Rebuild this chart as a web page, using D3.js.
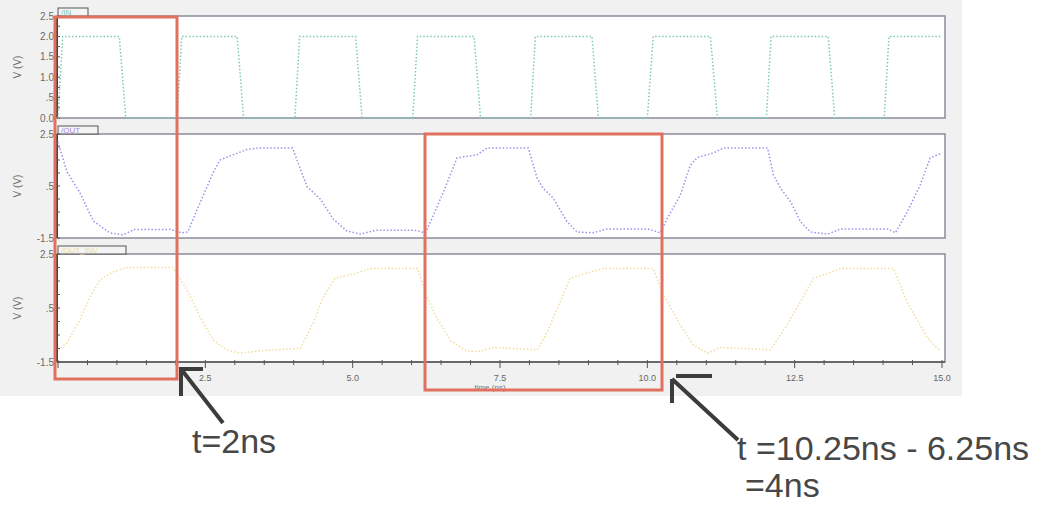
<!DOCTYPE html>
<meta charset="utf-8">
<script src="https://cdn.jsdelivr.net/npm/d3@7"></script>
<style>
  body { margin: 0; background: #fff; }
  svg { display: block; font-family: "Liberation Sans", Arial, sans-serif; }
</style>
<body>
<div id="chart"></div>
<script>

// ----- data (time in ns, volts)
var inPoints = [
  [0, 0], [0.08, 2], [1.04, 2], [1.15, 0],
  [2.02, 0], [2.1, 2], [3.04, 2], [3.15, 0],
  [4.02, 0], [4.1, 2], [5.05, 2], [5.16, 0],
  [6.02, 0], [6.1, 2], [7.06, 2], [7.17, 0],
  [8.02, 0], [8.1, 2], [9.06, 2], [9.17, 0],
  [10.0, 0], [10.1, 2], [11.07, 2], [11.19, 0],
  [12.02, 0], [12.1, 2], [13.07, 2], [13.18, 0],
  [14.02, 0], [14.1, 2], [15, 2]
]
var outPoints = [
  [0, 2.2], [0.15, 1.05], [0.37, 0.25], [0.6, -0.85], [0.88, -1.3], [1.1, -1.38],
  [1.3, -1.17], [1.9, -1.17], [2.1, -1.3], [2.2, -1.27], [2.41, -0.15], [2.63, 1.0],
  [2.75, 1.5], [2.97, 1.7], [3.2, 1.9], [3.4, 1.96], [3.98, 1.96], [4.1, 1.23],
  [4.23, 0.46], [4.45, 0.0], [4.67, -0.77], [4.9, -1.23], [5.13, -1.35], [5.4, -1.2],
  [6.05, -1.2], [6.23, -1.3], [6.32, -0.88], [6.54, 0.27], [6.77, 1.58], [7.11, 1.7],
  [7.28, 1.96], [7.98, 1.96], [8.13, 0.8], [8.23, 0.42], [8.4, 0.04], [8.64, -0.88],
  [8.81, -1.27], [9.08, -1.3], [9.32, -1.15], [10.0, -1.15], [10.22, -1.3], [10.34, -0.73],
  [10.56, 0.15], [10.73, 1.3], [10.85, 1.6], [11.12, 1.77], [11.29, 1.96], [12.04, 1.96],
  [12.14, 0.92], [12.26, 0.42], [12.43, -0.1], [12.6, -0.88], [12.77, -1.27], [13.06, -1.35],
  [13.28, -1.15], [14.07, -1.15], [14.21, -1.3], [14.41, -0.5], [14.63, 0.54], [14.8, 1.58],
  [15.0, 1.77]
]
var outInvPoints = [
  [0, -1.06], [0.15, -0.8], [0.37, 0.06], [0.54, 0.9], [0.71, 1.54], [0.93, 1.83],
  [1.17, 2.0], [1.95, 2.0], [2.19, 1.17], [2.41, 0.17], [2.63, -0.68], [2.87, -1.06],
  [3.09, -1.17], [3.55, -1.06], [4.11, -1.0], [4.33, -0.06], [4.5, 0.9], [4.7, 1.6],
  [5.08, 1.8], [5.3, 1.96], [6.1, 1.96], [6.26, 0.9], [6.43, 0.13], [6.66, -0.7],
  [6.94, -1.1], [7.16, -1.1], [7.39, -0.96], [8.13, -1.05], [8.3, -0.4], [8.69, 1.6],
  [8.98, 1.8], [9.25, 1.96], [10.1, 1.96], [10.27, 1.0], [10.56, -0.13], [10.78, -0.87],
  [11.02, -1.17], [11.24, -0.96], [12.09, -1.05], [12.38, -0.1], [12.82, 1.6], [13.28, 1.96],
  [14.18, 1.96], [14.41, 0.7], [14.75, -0.6], [14.97, -1.1]
]

var timeTicks = [2.5, 5.0, 7.5, 10.0, 12.5, 15.0]
var inTickLabels = ["0.0", ".5", "1.0", "1.5", "2.0", "2.5"]
var inTickValues = [0, 0.5, 1.0, 1.5, 2.0, 2.5]
var outTickLabels = ["-1.5", ".5", "2.5"]
var outTickValues = [-1.5, 0.5, 2.5]

var panels = [
  {name: "/IN", data: inPoints, color: "#7ccbb0", domain: [0, 2.5], top: 16, bottom: 118,
   tabW: 30, ticks: inTickValues, labels: inTickLabels, minor: 0.25},
  {name: "/OUT", data: outPoints, color: "#a68cea", domain: [-1.5, 2.5], top: 134, bottom: 238,
   tabW: 40, ticks: outTickValues, labels: outTickLabels, minor: 0.5},
  {name: "/OUT_INV", data: outInvPoints, color: "#f2dc9e", domain: [-1.5, 2.5], top: 254, bottom: 362,
   tabW: 68, ticks: outTickValues, labels: outTickLabels, minor: 0.5}
]

var W = 1042, H = 506
var left = 57, right = 945

var svg = d3.select("#chart").append("svg")
  .attr("width", W).attr("height", H)

// simulator window background
svg.append("rect")
  .attr("x", 0).attr("y", 0).attr("width", 962).attr("height", 396)
  .attr("fill", "#f1f1f1")

var xScale = d3.scaleLinear().domain([0, 15]).range([58, 942])

panels.forEach(function(p) {
  var yScale = d3.scaleLinear().domain(p.domain).range([p.bottom, p.top])

  svg.append("rect")
    .attr("x", left).attr("y", p.top)
    .attr("width", right - left).attr("height", p.bottom - p.top)
    .attr("fill", "#fff")
    .attr("stroke", "#8c8c9c").attr("stroke-width", 1.5)

  // tab with signal name
  svg.append("rect")
    .attr("x", left + 1).attr("y", p.top - 8)
    .attr("width", p.tabW).attr("height", 8)
    .attr("fill", "#f4f4f4").attr("stroke", "#555").attr("stroke-width", 1)
  svg.append("text")
    .attr("x", left + 4).attr("y", p.top - 1)
    .style("font-size", "8px")
    .attr("fill", p.color)
    .text(p.name)

  // left axis
  svg.append("line")
    .attr("x1", left).attr("x2", left)
    .attr("y1", p.top).attr("y2", p.bottom)
    .attr("stroke", "#444").attr("stroke-width", 2)
  var minorTicks = d3.range(p.domain[0], p.domain[1] + 0.001, p.minor)
  svg.selectAll(null).data(minorTicks).enter().append("line")
    .attr("x1", left).attr("x2", left + 3)
    .attr("y1", function(d) { return yScale(d) })
    .attr("y2", function(d) { return yScale(d) })
    .attr("stroke", "#555").attr("stroke-width", 1)
  svg.selectAll(null).data(p.ticks).enter().append("text")
    .attr("x", left - 3)
    .attr("y", function(d) { return yScale(d) + 3.5 })
    .attr("text-anchor", "end")
    .style("font-size", "10px")
    .attr("fill", "#6a6a6a")
    .text(function(d, i) { return p.labels[i] })
  svg.append("text")
    .attr("transform", "translate(21," + ((p.top + p.bottom) / 2) + ") rotate(-90)")
    .attr("text-anchor", "middle")
    .style("font-size", "10px")
    .attr("fill", "#6a6a6a")
    .text("V (V)")

  var line = d3.line()
    .x(function(d) { return xScale(d[0]) })
    .y(function(d) { return yScale(d[1]) })
  svg.append("path")
    .datum(p.data)
    .attr("d", line)
    .attr("fill", "none")
    .attr("stroke", p.color)
    .attr("stroke-width", 1.5)
    .attr("stroke-dasharray", "1.5,2")
})

// ----- time axis
var axisY = 362
svg.append("line")
  .attr("x1", left).attr("x2", right).attr("y1", axisY).attr("y2", axisY)
  .attr("stroke", "#555").attr("stroke-width", 1.5)
svg.selectAll(null).data(d3.range(0, 15.01, 0.5)).enter().append("line")
  .attr("x1", function(d) { return xScale(d) })
  .attr("x2", function(d) { return xScale(d) })
  .attr("y1", axisY - 2).attr("y2", function(d) { return axisY + (d % 2.5 === 0 ? 6 : 3) })
  .attr("stroke", "#555").attr("stroke-width", 1)
svg.selectAll(null).data(timeTicks).enter().append("text")
  .attr("x", function(d) { return xScale(d) })
  .attr("y", 381)
  .attr("text-anchor", "middle")
  .style("font-size", "9px")
  .attr("fill", "#666")
  .text(function(d) { return d.toFixed(1) })
svg.append("text")
  .attr("x", 490).attr("y", 390)
  .attr("text-anchor", "middle")
  .style("font-size", "8px")
  .attr("fill", "#777")
  .text("time (ns)")

// ----- highlight boxes
var boxes = [[55, 17, 177, 379], [425, 134, 662, 390]]
boxes.forEach(function(b) {
  svg.append("rect")
    .attr("x", b[0]).attr("y", b[1])
    .attr("width", b[2] - b[0]).attr("height", b[3] - b[1])
    .attr("fill", "none")
    .attr("stroke", "#e2705f").attr("stroke-width", 3)
})

// ----- annotations
var ink = "#3c3c3c"
svg.append("path")
  .attr("d", "M203,369 L181,369 L181,396 M181,369 L223,423")
  .attr("fill", "none").attr("stroke", ink).attr("stroke-width", 4)
svg.append("path")
  .attr("d", "M676,376 L712,376 M672,379 L672,403 M672,379 L738,440")
  .attr("fill", "none").attr("stroke", ink).attr("stroke-width", 4)

svg.append("text")
  .attr("x", 192).attr("y", 453)
  .style("font-size", "34px")
  .attr("fill", "#474747")
  .text("t=2ns")
svg.append("text")
  .attr("x", 737).attr("y", 460)
  .style("font-size", "34px")
  .attr("fill", "#474747")
  .text("t =10.25ns - 6.25ns")
svg.append("text")
  .attr("x", 745).attr("y", 497)
  .style("font-size", "34px")
  .attr("fill", "#474747")
  .text("=4ns")

</script>
</body>
